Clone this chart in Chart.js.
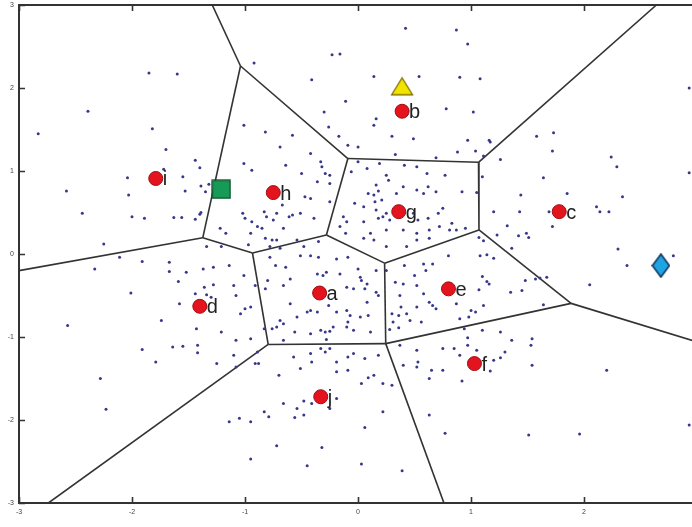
<!DOCTYPE html>
<html><head><meta charset="utf-8">
<style>html,body{margin:0;padding:0;background:#fff;overflow:hidden}#wrap{width:692px;height:527px;position:relative}</style>
<script src="https://cdn.jsdelivr.net/npm/chart.js@4.4.0/dist/chart.umd.min.js"></script>
</head><body><div id="wrap"><canvas id="c"></canvas></div>
<script>
// ---- data (data units) ----
const siteNames = ['a','b','c','d','e','f','g','h','i','j'];
const siteX = [-0.34, 0.39, 1.78, -1.40, 0.80, 1.03, 0.36, -0.75, -1.79, -0.33];
const siteY = [-0.47, 1.72, 0.51, -0.63, -0.42, -1.32, 0.51, 0.74, 0.91, -1.72];
const triangleX = [0.39], triangleY = [2.02];
const squareX = [-1.21], squareY = [0.78];
const diamondX = [2.68], diamondY = [-0.14];

const vertexX = [-1.29, -1.04, -0.09, -1.374, -3.0, -0.934, -0.28, 1.066, 2.64, 1.07, 0.235, 0.245, 1.885, 3.0, -0.795, -2.74, 0.76];
const vertexY = [3.0, 2.265, 1.15, 0.195, -0.20, 0.012, 0.23, 1.105, 3.0, 0.29, -0.11, -1.08, -0.595, -1.06, -1.09, -3.0, -3.0];
const edgeFrom = [0,1,1,3,3,5,6,2,7,7,9,10,10,9,12,12,11,14,14,11];
const edgeTo   = [1,2,3,4,5,6,2,7,8,9,10,6,11,12,13,11,14,5,15,16];

const sampleX = [
-1.85,-1.60,-2.39,-2.83,-1.82,-1.70,-1.72,-1.44,-1.40,-2.04,-1.55,-2.58,-2.03,-1.53,-1.39,-1.35,-1.32,-2.44,-2.00,-1.89,-1.63,-1.56,-1.44,-1.40,-1.39,-1.22,-1.17,-2.25,-1.34,-1.21,
0.42,0.87,-0.23,-0.16,-0.92,-0.41,0.14,0.54,0.90,-0.11,0.78,-0.30,0.16,0.14,-0.26,-1.01,-0.82,-0.58,-0.17,0.30,0.49,-0.69,-0.09,0.00,-0.42,0.33,0.88,0.69,
-1.01,-0.94,-0.64,-0.50,-0.33,-0.32,-0.29,-0.25,-0.36,-0.25,-0.47,-0.42,-0.25,-1.02,-1.00,-0.94,-0.89,-0.83,-0.81,-0.75,-0.72,-0.67,-0.61,-0.58,-0.51,-0.39,-0.66,-0.85,-0.95,-0.82,-0.76,-0.72,-0.54,-0.97,-0.78,-0.69,-0.48,-0.35,
-0.06,0.00,0.08,0.19,0.25,0.27,0.41,0.52,0.61,0.77,0.16,0.09,0.14,0.18,0.21,0.34,0.40,0.52,0.58,0.62,0.69,-0.03,0.05,0.15,0.16,0.18,0.22,0.25,0.28,0.49,0.53,0.62,0.71,0.75,0.81,0.83,-0.13,-0.10,-0.16,-0.11,0.05,0.11,0.25,0.40,0.52,0.63,0.72,0.87,0.05,0.14,0.25,0.43,0.52,0.63,
0.97,1.08,1.02,0.97,1.16,1.17,1.04,1.11,1.26,1.58,1.73,1.72,2.24,2.29,2.93,2.93,1.10,1.64,0.92,1.05,1.44,1.85,2.34,1.20,1.43,1.69,2.11,2.14,2.22,1.72,1.32,0.95,1.23,1.42,1.49,1.51,1.07,1.11,1.36,2.30,
-2.33,-2.11,-1.91,-1.67,-1.67,-1.52,-1.37,-1.28,-1.14,-1.59,-1.36,-1.28,-2.01,-1.44,-1.34,-1.30,-1.58,-1.74,-1.43,-1.21,-2.57,-1.91,-1.64,-1.55,-1.42,-1.42,-1.79,-1.25,-2.28,-2.23,-1.14,
-0.78,-0.73,-0.64,-0.51,-0.42,-0.35,-0.19,-0.09,0.00,0.02,0.03,0.08,0.16,0.06,0.16,0.18,-0.66,-0.60,-0.80,-0.82,-0.91,-1.01,-1.10,-1.08,-1.00,-0.95,-1.04,-0.36,-0.31,-0.28,-0.16,-0.10,-0.04,0.08,-0.60,-0.45,-0.42,-0.54,-0.36,-0.26,-0.19,-0.10,-0.07,0.02,0.09,-0.09,-0.69,-0.72,-0.76,-0.83,-0.66,-0.56,-0.42,-0.33,-0.29,-0.25,-0.22,-0.10,-0.04,0.11,
-0.28,-0.66,-0.33,-0.29,-0.25,-0.57,-0.42,-0.41,-0.51,-0.19,-0.09,-0.04,0.06,0.18,-0.09,-0.19,0.14,0.09,0.03,0.22,0.30,-0.70,-0.88,-1.08,-0.95,-0.91,-0.89,-1.10,-1.08,-0.48,-0.41,-0.25,-0.19,-0.66,-0.54,-0.56,-0.48,-0.83,-0.79,-1.05,-0.95,0.22,0.06,-0.72,-0.32,-0.95,-0.45,0.03,0.39,
0.25,0.33,0.40,0.41,0.58,0.60,0.66,0.80,0.50,0.52,0.58,0.63,0.66,0.52,0.69,0.37,0.38,0.30,0.36,0.43,0.46,0.31,0.28,0.36,0.87,0.90,0.56,
0.37,0.52,0.53,0.40,0.52,0.65,0.75,0.63,0.75,0.85,0.90,0.77,0.63,
1.08,1.14,1.20,1.10,1.14,1.16,2.38,2.79,1.07,1.35,1.45,1.48,1.57,1.61,1.67,2.05,1.11,1.64,1.00,1.04,0.98,0.94,1.10,1.26,0.97,0.97,1.36,1.54,1.53,1.30,1.26,1.20,1.17,1.54,1.05,0.92,2.20,1.51,1.96,2.93
];
const sampleY = [
2.18,2.17,1.72,1.45,1.51,1.26,1.02,1.13,1.04,0.92,0.93,0.76,0.71,0.76,0.82,0.75,0.84,0.49,0.45,0.43,0.44,0.44,0.42,0.48,0.50,0.31,0.25,0.12,0.09,0.09,
2.72,2.70,2.40,2.41,2.30,2.10,2.14,2.14,2.13,1.84,1.75,1.71,1.63,1.55,1.53,1.55,1.47,1.43,1.42,1.42,1.39,1.29,1.31,1.29,1.21,1.20,1.23,1.16,
1.09,1.01,1.07,0.97,1.11,1.05,0.97,0.95,0.87,0.85,0.69,0.67,0.63,0.49,0.43,0.39,0.33,0.51,0.45,0.41,0.49,0.59,0.45,0.47,0.49,0.43,0.31,0.31,0.25,0.19,0.17,0.17,0.17,0.11,0.09,0.07,0.09,0.15,
0.99,1.11,1.03,1.09,0.95,0.89,1.07,1.05,0.97,0.95,0.83,0.73,0.71,0.76,0.65,0.73,0.81,0.77,0.73,0.81,0.75,0.61,0.57,0.63,0.53,0.43,0.45,0.49,0.41,0.49,0.41,0.43,0.49,0.55,0.29,0.37,0.45,0.39,0.33,0.25,0.39,0.25,0.29,0.29,0.25,0.29,0.33,0.29,0.19,0.17,0.09,0.09,0.17,0.19,
2.53,2.11,1.71,1.37,1.37,1.35,1.24,1.18,1.14,1.42,1.46,1.24,1.17,1.05,2.00,0.98,0.93,0.92,0.75,0.74,0.71,0.73,0.69,0.51,0.51,0.51,0.57,0.51,0.51,0.33,0.34,0.31,0.23,0.22,0.25,0.20,0.20,0.16,0.07,0.06,
-0.18,-0.04,-0.09,-0.10,-0.21,-0.22,-0.18,-0.16,-0.14,-0.33,-0.40,-0.37,-0.47,-0.48,-0.49,-0.52,-0.60,-0.80,-0.90,-0.94,-0.86,-1.15,-1.12,-1.11,-1.10,-1.19,-1.30,-1.32,-1.50,-1.87,-2.02,
-0.04,-0.14,-0.16,-0.02,-0.02,-0.04,-0.06,-0.04,-0.18,-0.28,-0.32,-0.36,-0.20,-0.42,-0.46,-0.50,-0.38,-0.30,-0.32,-0.42,-0.38,-0.26,-0.38,-0.50,-0.66,-0.64,-0.72,-0.24,-0.26,-0.22,-0.24,-0.40,-0.42,-0.58,-0.60,-0.70,-0.68,-0.76,-0.70,-0.62,-0.70,-0.68,-0.74,-0.76,-0.74,-0.82,-0.80,-0.88,-0.90,-0.90,-0.84,-0.94,-0.96,-0.92,-0.94,-0.93,-0.88,-0.88,-0.92,-0.94,
-1.03,-1.04,-1.14,-1.18,-1.14,-1.24,-1.20,-1.30,-1.38,-1.30,-1.24,-1.20,-1.26,-1.22,-1.40,-1.42,-1.46,-1.49,-1.56,-1.56,-1.58,-1.46,-1.32,-1.04,-1.02,-1.32,-1.18,-1.22,-1.36,-1.77,-1.80,-1.86,-1.74,-1.80,-1.86,-1.97,-1.94,-1.90,-1.96,-1.98,-2.02,-1.90,-2.09,-2.31,-2.33,-2.47,-2.55,-2.53,-2.61,
-0.20,-0.34,-0.36,-0.14,-0.12,-0.20,-0.12,-0.02,-0.26,-0.38,-0.48,-0.58,-0.62,-0.64,-0.66,-0.50,-0.64,-0.72,-0.74,-0.72,-0.80,-0.82,-0.91,-0.89,-0.60,-0.78,-0.82,
-1.10,-1.16,-1.30,-1.34,-1.36,-1.40,-1.14,-1.50,-1.40,-1.14,-1.22,-2.16,-1.94,
-0.02,-0.01,-0.05,-0.27,-0.33,-0.36,-0.14,-0.02,-0.43,-0.46,-0.44,-0.32,-0.30,-0.29,-0.28,-0.37,-0.62,-0.61,-0.68,-0.70,-0.76,-0.90,-0.92,-0.94,-1.01,-1.10,-1.04,-1.02,-1.10,-1.18,-1.25,-1.28,-1.41,-1.34,-1.16,-1.53,-1.40,-2.18,-2.17,-2.06
];
const xTickValues = [-3,-2,-1,0,1,2];
const yTickValues = [-3,-2,-1,0,1,2,3];

// ---- marker images ----
function marker(w, h, draw) {
  const c = document.createElement('canvas'); c.width = w; c.height = h;
  const g = c.getContext('2d'); draw(g); return c;
}
const triImg = marker(24, 20, g => {
  g.beginPath(); g.moveTo(12, 1.5); g.lineTo(22.5, 18.5); g.lineTo(1.5, 18.5); g.closePath();
  g.fillStyle = '#f3e400'; g.fill(); g.lineWidth = 1.3; g.strokeStyle = '#7d6e00'; g.stroke();
});
const sqImg = marker(20, 20, g => {
  g.fillStyle = '#169a55'; g.fillRect(1, 1, 18, 18);
  g.lineWidth = 1.3; g.strokeStyle = '#0c4a28'; g.strokeRect(1, 1, 18, 18);
});
const diaImg = marker(19, 25, g => {
  g.beginPath(); g.moveTo(9.5, 1); g.lineTo(18, 12.5); g.lineTo(9.5, 24); g.lineTo(1, 12.5); g.closePath();
  g.fillStyle = '#1ea4e2'; g.fill(); g.lineWidth = 1.6; g.strokeStyle = '#14355f'; g.stroke();
});

const pts = (xs, ys) => xs.map((x, i) => ({x, y: ys[i]}));

const datasets = [
  {data: pts(triangleX, triangleY), pointStyle: triImg, pointRadius: 10},
  {data: pts(squareX, squareY), pointStyle: sqImg, pointRadius: 10},
  {data: pts(diamondX, diamondY), pointStyle: diaImg, pointRadius: 10},
  {data: pts(siteX, siteY), pointStyle: 'circle', pointRadius: 7, backgroundColor: '#e3141d', borderColor: '#a00d14', borderWidth: 1},
  {data: pts(sampleX, sampleY), pointStyle: 'circle', pointRadius: 1.5, backgroundColor: '#38388a', borderWidth: 0}
];
edgeFrom.forEach((a, k) => {
  const b = edgeTo[k];
  datasets.push({type: 'line', data: [{x: vertexX[a], y: vertexY[a]}, {x: vertexX[b], y: vertexY[b]}],
    showLine: true, pointRadius: 0, borderColor: '#333', borderWidth: 1.6, fill: false});
});

const frame = {
  id: 'frame',
  afterDatasetsDraw(chart) {
    const {ctx, chartArea: a, scales: {x, y}} = chart;
    ctx.save();
    ctx.fillStyle = '#222'; ctx.font = '20px "Liberation Sans", Arial, sans-serif';
    ctx.textBaseline = 'alphabetic'; ctx.textAlign = 'left';
    siteNames.forEach((n, i) => {
      ctx.fillText(n, x.getPixelForValue(siteX[i]) + 7, y.getPixelForValue(siteY[i]) + 7);
    });
    ctx.strokeStyle = '#333'; ctx.lineWidth = 2;
    ctx.beginPath();
    ctx.moveTo(a.right + 5, a.top); ctx.lineTo(a.left, a.top); ctx.lineTo(a.left, a.bottom); ctx.lineTo(a.right + 5, a.bottom);
    ctx.stroke();
    ctx.lineWidth = 1.6;
    ctx.beginPath();
    xTickValues.forEach(v => {
      const px = Math.round(x.getPixelForValue(v)) + 0.5;
      ctx.moveTo(px, a.bottom); ctx.lineTo(px, a.bottom - 6);
      ctx.moveTo(px, a.top); ctx.lineTo(px, a.top + 6);
    });
    yTickValues.forEach(v => {
      const py = Math.round(y.getPixelForValue(v)) + 0.5;
      ctx.moveTo(a.left, py); ctx.lineTo(a.left + 6, py);
    });
    ctx.stroke();
    ctx.restore();
  }
};

const noPad = s => { s.paddingLeft = 0; s.paddingRight = 0; s.paddingTop = 0; s.paddingBottom = 0; };

new Chart(document.getElementById('c'), {
  type: 'scatter',
  data: {datasets},
  options: {
    responsive: true, maintainAspectRatio: false, animation: false, devicePixelRatio: 1,
    layout: {autoPadding: false, padding: {top: 5, right: 0, left: 0, bottom: 0}},
    plugins: {legend: {display: false}, tooltip: {enabled: false}},
    scales: {
      x: {type: 'linear', min: -3, max: 2.955,
        afterBuildTicks: s => { s.ticks = xTickValues.map(v => ({value: v})); },
        afterFit: s => { s.height = 24; noPad(s); },
        ticks: {font: {size: 7, family: 'Liberation Sans'}, color: '#444', padding: 5, autoSkip: false, maxRotation: 0},
        grid: {display: false, drawTicks: false}, border: {display: false}},
      y: {type: 'linear', min: -3, max: 3,
        afterBuildTicks: s => { s.ticks = yTickValues.map(v => ({value: v})); },
        afterFit: s => { s.width = 19; noPad(s); },
        ticks: {font: {size: 7, family: 'Liberation Sans'}, color: '#444', padding: 5, autoSkip: false},
        grid: {display: false, drawTicks: false}, border: {display: false}}
    }
  },
  plugins: [frame]
});
</script></body></html>
